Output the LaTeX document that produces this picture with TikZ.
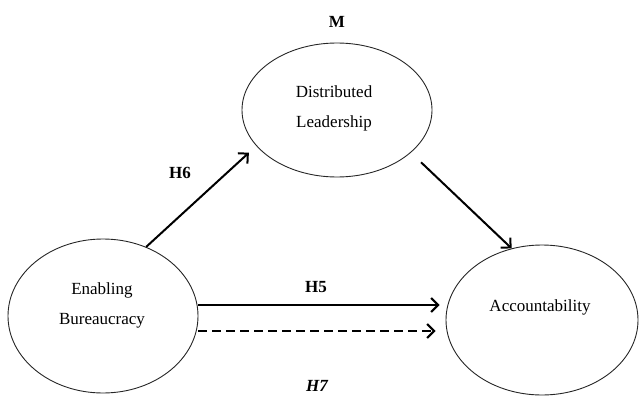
\documentclass[tikz,border=0pt]{standalone}
\usepackage{fontspec}
\setmainfont{Liberation Serif}
\usetikzlibrary{arrows.meta,shapes.geometric}
\begin{document}
\begin{tikzpicture}[x=1pt,y=1pt,
  construct/.style={draw=black!85,line width=0.9pt,ellipse,inner sep=0pt},
  txt/.style={font=\fontsize{17}{30}\selectfont,align=center,inner sep=0pt},
  hyp/.style={font=\fontsize{17}{20}\selectfont\bfseries,inner sep=0pt},
  path/.style={line width=2pt,-{Straight Barb[length=7pt,width=14pt]}}]
\useasboundingbox (0,0) rectangle (639,397);
\node[construct,minimum width=190,minimum height=134] (dl) at (337,287) {};
\node[construct,minimum width=190,minimum height=154] (eb) at (103,81) {};
\node[construct,minimum width=192,minimum height=150] (ac) at (542,77) {};
\node[txt] (dlt) at (334,289) {Distributed\\Leadership};
\node[txt] (ebt) at (102,92) {Enabling\\Bureaucracy};
\node[txt] (act) at (540,90) {Accountability};
\node[hyp] (m) at (337,375) {M};
\node[hyp] (h6) at (180,224) {H6};
\node[hyp] (h5) at (316,110) {H5};
\node[hyp] (h7) at (317,11) {\itshape H7};
\draw[path,shorten >=10pt] (eb.58) -- (dl.204);
\draw[path,shorten <=14pt] (dl.-30) -- (ac.113);
\draw[path,shorten >=6pt] ([yshift=11pt]eb.east) -- ([yshift=15pt]ac.west);
\draw[path,dash pattern=on 9pt off 5pt,shorten >=10pt] ([yshift=-15pt]eb.east) -- ([yshift=-11pt]ac.west);
\end{tikzpicture}
\end{document}
